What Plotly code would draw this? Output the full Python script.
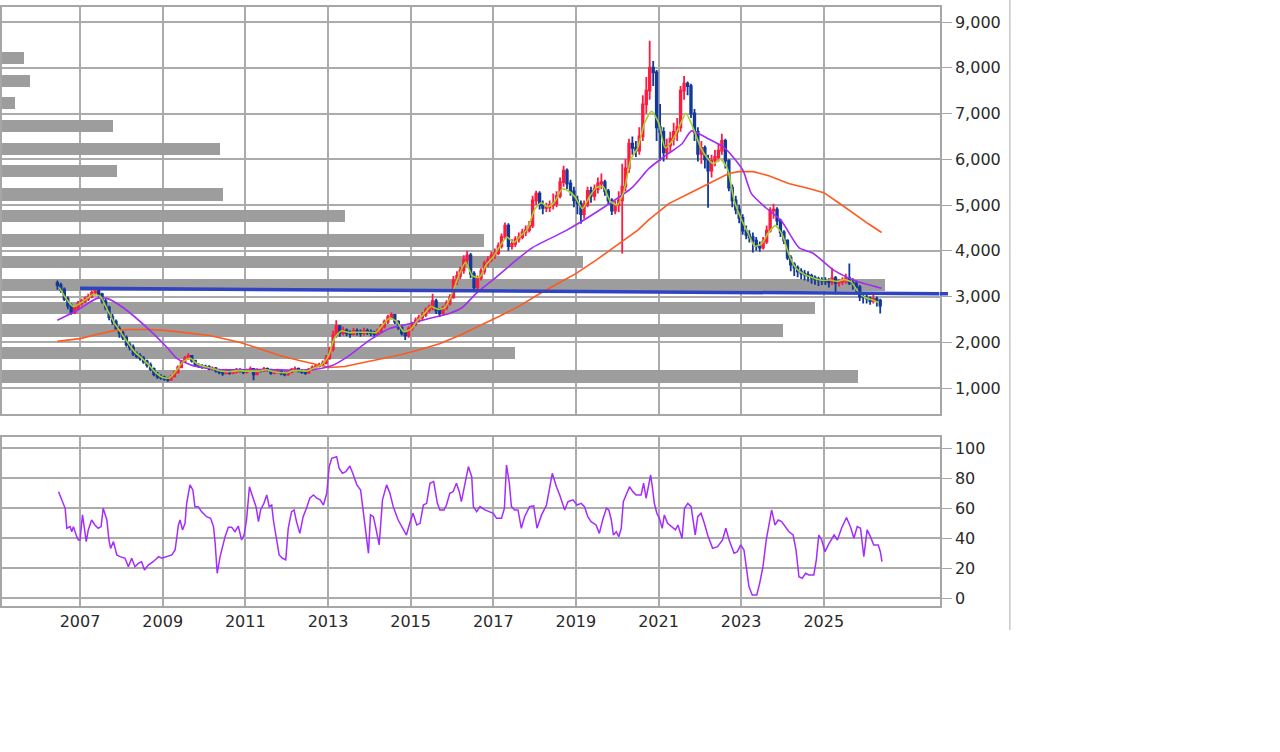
import plotly.graph_objects as go
import pandas as pd
from datetime import datetime

# ---------------- monthly candles (Jun 2006 .. May 2026) ----------------
opens = [
    3300, 3250, 3150, 2950, 2800, 2650, 2750,
    2850, 2900, 2950, 3000, 3080, 3120, 3050, 2900, 2760, 2550, 2450, 2300,
    2200, 2100, 1950, 1890, 1750, 1700, 1650, 1580, 1500, 1420, 1300, 1250,
    1230, 1200, 1180, 1250, 1340, 1450, 1580, 1650, 1700, 1600, 1500, 1480,
    1470, 1460, 1420, 1430, 1380, 1350, 1320, 1380, 1330, 1350, 1400, 1380,
    1350, 1380, 1420, 1300, 1400, 1380, 1420, 1400, 1330, 1350, 1380, 1320,
    1300, 1350, 1400, 1420, 1380, 1350, 1330, 1400, 1450, 1480, 1500, 1540,
    1650, 1850, 2150, 2350, 2200, 2260, 2200, 2180, 2250, 2220, 2200, 2250,
    2230, 2200, 2180, 2250, 2350, 2450, 2550, 2600, 2450, 2320, 2200, 2150,
    2300, 2400, 2480, 2540, 2600, 2700, 2760, 2900, 2700, 2630, 2750, 2850,
    2980, 3350, 3450, 3570, 3800, 3900, 3500, 3200, 3400, 3550, 3720, 3800,
    3900, 3950, 4100, 4300, 4550, 4100, 4150, 4250, 4300, 4400, 4450, 4550,
    5100, 5250, 5000, 4940, 4950, 5000, 5030, 5200, 5500, 5750, 5470, 5300,
    5100, 5030, 4800, 5000, 5310, 5200, 5350, 5470, 5500, 5300, 5100, 4880,
    5000, 5100, 5400, 5800, 6340, 6250, 6190, 6500, 7200, 7500, 8000, 7900,
    6700, 6600, 6150, 6300, 6450, 6600, 6700, 7500, 7650, 7600, 7000, 6600,
    6120, 6250, 6000, 5750, 5970, 6050, 6190, 6400, 5970, 5380, 5100, 4900,
    4720, 4440, 4350, 4300, 4220, 4100, 4070, 4200, 4440, 4880, 4900, 4660,
    4400, 4220, 3850, 3700, 3630, 3550, 3500, 3480, 3450, 3410, 3380, 3360,
    3350, 3330, 3310, 3400, 3300, 3320, 3350, 3400, 3300, 3280, 3200, 3000,
    2980, 2960, 2900, 2950, 2910,
]
highs = [
    3350, 3300, 3200, 3000, 2850, 2800, 2900,
    2950, 3000, 3060, 3130, 3180, 3150, 3080, 2950, 2800, 2620, 2500, 2350,
    2250, 2150, 2000, 1950, 1800, 1760, 1700, 1620, 1560, 1450, 1350, 1300,
    1270, 1240, 1290, 1380, 1490, 1620, 1700, 1760, 1720, 1620, 1540, 1520,
    1510, 1500, 1470, 1460, 1420, 1380, 1420, 1410, 1390, 1440, 1430, 1410,
    1420, 1470, 1440, 1430, 1420, 1460, 1450, 1420, 1390, 1420, 1400, 1360,
    1390, 1440, 1470, 1450, 1410, 1390, 1440, 1490, 1520, 1550, 1600, 1720,
    1900, 2250, 2480, 2380, 2340, 2300, 2260, 2310, 2300, 2280, 2320, 2300,
    2280, 2250, 2300, 2400, 2500, 2600, 2650, 2620, 2480, 2360, 2250, 2350,
    2450, 2540, 2600, 2660, 2760, 2820, 3060, 2950, 2750, 2800, 2920, 3050,
    3450, 3550, 3650, 3900, 4000, 3950, 3550, 3460, 3620, 3780, 3880, 3980,
    4050, 4180, 4380, 4620, 4600, 4250, 4320, 4400, 4480, 4550, 4650, 5200,
    5310, 5300, 5100, 5050, 5100, 5250, 5300, 5600, 5860, 5800, 5550, 5400,
    5200, 5100, 5100, 5400, 5400, 5450, 5600, 5690, 5550, 5350, 5150, 5100,
    5300, 5900, 6000, 6450, 6500, 6400, 6700, 7400, 7800, 8590, 8150, 7950,
    7210, 6700, 6450, 6600, 6800, 6900, 7600, 7820, 7700, 7650, 7100, 6700,
    6400, 6300, 6100, 6100, 6200, 6350, 6560, 6450, 6000, 5450, 5200, 5000,
    4800, 4550, 4450, 4400, 4300, 4200, 4300, 4550, 4950, 5030, 4950, 4700,
    4450, 4250, 3900, 3750, 3680, 3620, 3580, 3550, 3500, 3460, 3430, 3420,
    3420, 3400, 3630, 3450, 3380, 3420, 3500, 3720, 3400, 3350, 3250, 3080,
    3050, 3000, 3050, 3000, 2950,
]
lows = [
    3150, 3080, 2900, 2720, 2600, 2620, 2700,
    2800, 2860, 2900, 2960, 3020, 2980, 2850, 2700, 2480, 2380, 2250, 2100,
    2050, 1900, 1820, 1700, 1650, 1600, 1530, 1450, 1370, 1260, 1200, 1180,
    1160, 1140, 1160, 1230, 1320, 1430, 1550, 1620, 1560, 1460, 1440, 1420,
    1420, 1390, 1380, 1340, 1300, 1270, 1300, 1290, 1300, 1320, 1340, 1300,
    1320, 1350, 1170, 1280, 1340, 1350, 1360, 1290, 1300, 1320, 1280, 1260,
    1270, 1320, 1360, 1340, 1310, 1290, 1310, 1380, 1420, 1450, 1480, 1520,
    1620, 1800, 2100, 2120, 2150, 2130, 2100, 2150, 2150, 2120, 2150, 2160,
    2130, 2100, 2150, 2200, 2300, 2400, 2500, 2400, 2270, 2150, 2050, 2100,
    2250, 2350, 2430, 2480, 2550, 2650, 2700, 2620, 2550, 2580, 2700, 2800,
    2950, 3250, 3380, 3500, 3700, 3400, 3150, 3120, 3350, 3480, 3650, 3750,
    3820, 3900, 4050, 4250, 4000, 4030, 4080, 4180, 4250, 4320, 4400, 4500,
    5000, 4900, 4800, 4850, 4850, 4900, 4950, 5150, 5400, 5350, 5200, 4950,
    4800, 4590, 4700, 4950, 5050, 5100, 5250, 5350, 5200, 5000, 4780, 4800,
    4850, 3940, 5300, 5700, 6100, 6050, 6100, 6400, 7000, 7300, 7600, 6400,
    5970, 5950, 6000, 6150, 6300, 6400, 6600, 7300, 7400, 6900, 6400, 5950,
    5900, 5800, 4940, 5600, 5850, 5950, 6100, 5800, 5300, 4950, 4800, 4600,
    4350, 4250, 4180, 3960, 4000, 3980, 4030, 4150, 4400, 4700, 4550, 4300,
    4150, 3800, 3550, 3450, 3420, 3380, 3350, 3330, 3280, 3260, 3230, 3250,
    3250, 3200, 3250, 3050, 3220, 3250, 3280, 3250, 3150, 3100, 2900, 2850,
    2850, 2820, 2850, 2780, 2630,
]
closes = [
    3250, 3150, 2950, 2800, 2650, 2750, 2850,
    2900, 2950, 3000, 3080, 3120, 3050, 2900, 2760, 2550, 2450, 2300, 2200,
    2100, 1950, 1890, 1750, 1700, 1650, 1580, 1500, 1420, 1300, 1250, 1230,
    1200, 1180, 1250, 1340, 1450, 1580, 1650, 1700, 1600, 1500, 1480, 1470,
    1460, 1420, 1430, 1380, 1350, 1320, 1380, 1330, 1350, 1400, 1380, 1350,
    1380, 1420, 1300, 1400, 1380, 1420, 1400, 1330, 1350, 1380, 1320, 1300,
    1350, 1400, 1420, 1380, 1350, 1330, 1400, 1450, 1480, 1500, 1540, 1650,
    1850, 2150, 2350, 2200, 2260, 2200, 2180, 2250, 2220, 2200, 2250, 2230,
    2200, 2180, 2250, 2350, 2450, 2550, 2600, 2450, 2320, 2200, 2150, 2300,
    2400, 2480, 2540, 2600, 2700, 2760, 2900, 2700, 2630, 2750, 2850, 2980,
    3350, 3450, 3570, 3800, 3900, 3500, 3200, 3400, 3550, 3720, 3800, 3900,
    3950, 4100, 4300, 4550, 4100, 4150, 4250, 4300, 4400, 4450, 4550, 5100,
    5250, 5000, 4940, 4950, 5000, 5030, 5200, 5500, 5750, 5470, 5300, 5100,
    5030, 4800, 5000, 5310, 5200, 5350, 5470, 5500, 5300, 5100, 4880, 5000,
    5100, 5400, 5800, 6340, 6250, 6190, 6500, 7200, 7500, 8000, 7900, 6700,
    6600, 6150, 6300, 6450, 6600, 6700, 7500, 7650, 7600, 7000, 6600, 6120,
    6250, 6000, 5750, 5970, 6050, 6190, 6400, 5970, 5380, 5100, 4900, 4720,
    4440, 4350, 4300, 4220, 4100, 4070, 4200, 4440, 4880, 4900, 4660, 4400,
    4220, 3850, 3700, 3630, 3550, 3500, 3480, 3450, 3410, 3380, 3360, 3350,
    3330, 3310, 3400, 3300, 3320, 3350, 3400, 3300, 3280, 3200, 3000, 2980,
    2960, 2900, 2950, 2910, 2800,
]
candle_dates = pd.date_range("2006-06-01", periods=len(closes), freq="MS") + pd.Timedelta(days=14)

# ---------------- moving averages ----------------
ma_short_dates = [
    "2006-07", "2006-09", "2006-11",
    "2007-01", "2007-03", "2007-05", "2007-07", "2007-09", "2007-11",
    "2008-01", "2008-03", "2008-05", "2008-07", "2008-09", "2008-11",
    "2009-01", "2009-03", "2009-05", "2009-07", "2009-09", "2009-11",
    "2010-01", "2010-03", "2010-05", "2010-07", "2010-09", "2010-11",
    "2011-01", "2011-03", "2011-05", "2011-07", "2011-09", "2011-11",
    "2012-01", "2012-03", "2012-05", "2012-07", "2012-09", "2012-11",
    "2013-01", "2013-03", "2013-05", "2013-07", "2013-09", "2013-11",
    "2014-01", "2014-03", "2014-05", "2014-07", "2014-09", "2014-11",
    "2015-01", "2015-03", "2015-05", "2015-07", "2015-09", "2015-11",
    "2016-01", "2016-03", "2016-05", "2016-07", "2016-09", "2016-11",
    "2017-01", "2017-03", "2017-05", "2017-07", "2017-09", "2017-11",
    "2018-01", "2018-03", "2018-05", "2018-07", "2018-09", "2018-11",
    "2019-01", "2019-03", "2019-05", "2019-07", "2019-09", "2019-11",
    "2020-01", "2020-03", "2020-05", "2020-07", "2020-09", "2020-11",
    "2021-01", "2021-03", "2021-05", "2021-07", "2021-09", "2021-11",
    "2022-01", "2022-03", "2022-05", "2022-07", "2022-09", "2022-11",
    "2023-01", "2023-03", "2023-05", "2023-07", "2023-09", "2023-11",
    "2024-01", "2024-03", "2024-05", "2024-07", "2024-09", "2024-11",
    "2025-01", "2025-03", "2025-05", "2025-07", "2025-09", "2025-11",
    "2026-01", "2026-03", "2026-05",
]
ma_short = [
    3200, 2950, 2780,
    2850, 2950, 3050, 3000, 2700, 2420,
    2200, 1980, 1780, 1650, 1500, 1330,
    1230, 1220, 1380, 1580, 1650, 1530,
    1470, 1440, 1390, 1360, 1360, 1380,
    1370, 1370, 1370, 1400, 1360, 1340,
    1330, 1380, 1380, 1370, 1440, 1500,
    1680, 2100, 2250, 2210, 2220, 2220,
    2220, 2210, 2380, 2530, 2450, 2230,
    2280, 2470, 2620, 2780, 2720, 2760,
    3050, 3450, 3750, 3450, 3420, 3700,
    3870, 4100, 4300, 4180, 4330, 4480,
    4900, 5050, 4960, 5080, 5350, 5300,
    5150, 4920, 5180, 5380, 5400, 5080,
    5000, 5300, 6000, 6250, 6800, 7050,
    6800, 6250, 6400, 6700, 7000, 6700,
    6300, 6050, 5900, 6000, 5800, 5100,
    4700, 4400, 4100, 4150, 4400, 4550,
    4350, 3900, 3620, 3500, 3430, 3380,
    3350, 3360, 3330, 3370, 3320, 3100,
    2980, 2930, 2870,
]
ma_mid_t = [2006.45, 2006.93, 2007.41, 2007.65, 2008.04, 2008.69, 2009.10, 2009.34, 2009.73, 2010.38,
            2011.00, 2011.60, 2012.20, 2012.80, 2013.10, 2013.45, 2014.00, 2014.49, 2015.00, 2015.45,
            2015.94, 2016.25, 2016.59, 2017.07, 2017.55, 2017.95, 2018.76, 2019.56, 2020.36, 2020.77,
            2021.20, 2021.57, 2021.80, 2022.20, 2022.60, 2022.85, 2023.05, 2023.25, 2023.60, 2023.97,
            2024.40, 2024.75, 2025.25, 2025.75, 2026.40]
ma_mid = [2480, 2700, 2960, 2960, 2760, 2260, 1890, 1650, 1490, 1400,
          1400, 1400, 1390, 1420, 1490, 1670, 2040, 2300, 2410, 2520,
          2630, 2760, 3070, 3420, 3790, 4070, 4440, 4880, 5380, 5800,
          6100, 6340, 6620, 6450, 6250, 6000, 5750, 5250, 4940, 4660,
          4070, 3940, 3570, 3350, 3180]
ma_long_t = [2006.45, 2007.00, 2007.50, 2007.85, 2008.20, 2008.70, 2009.05, 2009.66, 2010.14, 2010.38,
             2010.86, 2011.35, 2011.83, 2012.31, 2012.80, 2013.04, 2013.40, 2013.76, 2014.00, 2014.73,
             2015.20, 2015.70, 2016.18, 2016.66, 2017.15, 2017.63, 2018.10, 2018.60, 2019.00, 2019.50,
             2020.00, 2020.50, 2020.77, 2021.25, 2021.74, 2022.22, 2022.70, 2022.94, 2023.30, 2023.67,
             2024.15, 2024.64, 2025.00, 2025.36, 2025.72, 2026.08, 2026.40]
ma_long = [2020, 2080, 2190, 2260, 2280, 2280, 2260, 2190, 2150, 2100,
           2000, 1860, 1710, 1600, 1490, 1450, 1470, 1540, 1580, 1720,
           1830, 1970, 2150, 2350, 2570, 2790, 3050, 3300, 3500, 3800,
           4130, 4450, 4680, 5030, 5250, 5470, 5690, 5730, 5730, 5640,
           5470, 5360, 5270, 5050, 4810, 4590, 4400]

# trend line (blue)
trend_t = [2007.0, 2027.80]
trend_v = [3180, 3061]

# ---------------- volume profile ----------------
vp_price = [1253, 1766, 2258, 2749, 3251, 3753, 4223, 4758, 5227, 5740, 6220, 6723, 7225, 7716, 8207]
vp_volume = [858, 514, 783, 815, 885, 582, 483, 344, 221, 115, 218, 111, 13, 28, 22]

# ---------------- RSI ----------------
rsi_t = [
    2006.48, 2006.56, 2006.64, 2006.68, 2006.76, 2006.80, 2006.84, 2006.92, 2006.96, 2007.00,
    2007.06, 2007.10, 2007.15, 2007.20, 2007.28, 2007.36, 2007.44, 2007.51, 2007.56, 2007.65,
    2007.70, 2007.74, 2007.81, 2007.89, 2007.97, 2008.09, 2008.17, 2008.25, 2008.33, 2008.41,
    2008.49, 2008.56, 2008.65, 2008.77, 2008.90, 2008.98, 2009.10, 2009.22, 2009.30, 2009.38,
    2009.42, 2009.48, 2009.54, 2009.58, 2009.66, 2009.73, 2009.78, 2009.86, 2009.94, 2010.06,
    2010.16, 2010.23, 2010.27, 2010.32, 2010.39, 2010.51, 2010.59, 2010.67, 2010.75, 2010.83,
    2010.91, 2010.97, 2011.03, 2011.10, 2011.19, 2011.26, 2011.32, 2011.37, 2011.45, 2011.52,
    2011.58, 2011.64, 2011.68, 2011.74, 2011.82, 2011.90, 2011.98, 2012.04, 2012.12, 2012.18,
    2012.24, 2012.32, 2012.40, 2012.48, 2012.56, 2012.65, 2012.73, 2012.81, 2012.89, 2012.97,
    2013.03, 2013.09, 2013.21, 2013.27, 2013.35, 2013.43, 2013.53, 2013.60, 2013.70, 2013.79,
    2013.85, 2013.92, 2013.98, 2014.03, 2014.10, 2014.16, 2014.24, 2014.32, 2014.42, 2014.50,
    2014.58, 2014.70, 2014.81, 2014.90, 2014.98, 2015.06, 2015.15, 2015.23, 2015.31, 2015.39,
    2015.47, 2015.56, 2015.65, 2015.71, 2015.81, 2015.87, 2015.95, 2016.03, 2016.11, 2016.18,
    2016.23, 2016.31, 2016.40, 2016.48, 2016.52, 2016.60,
    2016.68, 2016.80, 2016.92, 2017.00, 2017.08, 2017.20, 2017.27, 2017.32, 2017.39, 2017.44,
    2017.52, 2017.60, 2017.68, 2017.76, 2017.88, 2017.98, 2018.06, 2018.17, 2018.29, 2018.37,
    2018.43, 2018.53, 2018.61, 2018.73, 2018.81, 2018.93, 2019.03, 2019.13, 2019.21, 2019.29,
    2019.37, 2019.49, 2019.57, 2019.65, 2019.74, 2019.80, 2019.86, 2019.91, 2019.98, 2020.04,
    2020.10, 2020.15, 2020.22, 2020.30, 2020.38, 2020.46, 2020.58, 2020.64, 2020.70, 2020.77,
    2020.81, 2020.85, 2020.90, 2020.96, 2021.02, 2021.09, 2021.14, 2021.22, 2021.33, 2021.41,
    2021.47, 2021.57, 2021.63, 2021.71, 2021.79, 2021.84, 2021.89, 2021.95, 2022.03, 2022.11,
    2022.19, 2022.31, 2022.43, 2022.55, 2022.63, 2022.71, 2022.83, 2022.91, 2022.99, 2023.07,
    2023.13, 2023.19, 2023.27, 2023.38, 2023.45, 2023.53, 2023.61, 2023.68, 2023.74, 2023.82,
    2023.90, 2023.98, 2024.06, 2024.16, 2024.26, 2024.33, 2024.40, 2024.48, 2024.56, 2024.64,
    2024.76, 2024.82, 2024.88, 2024.95, 2025.03, 2025.13, 2025.25, 2025.33, 2025.43, 2025.55,
    2025.65, 2025.73, 2025.81, 2025.89, 2025.97, 2026.05, 2026.13, 2026.21, 2026.32, 2026.37, 2026.41,
]
rsi_v = [
    71.1, 65.6, 60.0, 46.7, 47.8, 44.4, 47.8, 41.1, 38.9, 38.9,
    55.6, 47.8, 37.8, 45.6, 52.2, 48.9, 46.7, 47.8, 60.0, 52.2,
    38.9, 33.3, 37.8, 28.9, 27.8, 26.7, 21.1, 26.7, 21.1, 23.3,
    24.4, 18.9, 22.2, 24.4, 27.8, 26.7, 27.8, 28.9, 32.2, 48.9,
    52.2, 45.6, 50.0, 63.3, 75.6, 72.2, 61.1, 61.1, 57.8, 54.4,
    53.3, 47.8, 36.7, 16.7, 27.8, 41.1, 47.4, 47.4, 44.4, 48.2,
    38.9, 42.2, 52.2, 74.4, 66.7, 61.1, 51.1, 58.9, 63.3, 68.9,
    61.1, 62.2, 52.2, 41.1, 28.9, 26.7, 25.6, 46.7, 57.8, 58.9,
    51.1, 43.3, 54.4, 60.0, 66.7, 68.9, 66.7, 65.6, 62.2, 70.0,
    87.8, 93.3, 94.4, 86.7, 83.3, 84.4, 88.2, 83.3, 75.6, 72.2,
    60.0, 45.6, 30.0, 55.6, 54.4, 46.7, 35.6, 65.6, 75.6, 70.0,
    61.1, 52.2, 46.7, 42.2, 50.0, 56.7, 48.9, 50.0, 62.2, 63.3,
    76.7, 77.8, 63.3, 58.9, 58.9, 62.2, 70.0, 71.1, 76.7, 71.1,
    64.4, 76.7, 87.8, 81.1, 61.1, 57.8,
    61.1, 58.9, 57.8, 56.7, 53.3, 53.3, 60.0, 88.9, 76.7, 61.1,
    58.9, 58.9, 46.7, 54.4, 61.1, 61.6, 46.7, 55.6, 62.2, 74.4,
    83.3, 74.4, 68.9, 58.9, 64.4, 65.6, 62.2, 63.3, 61.1, 54.4,
    51.1, 48.9, 43.3, 52.2, 60.0, 58.9, 52.2, 42.2, 44.4, 41.1,
    46.7, 64.4, 68.9, 74.4, 71.1, 68.9, 68.9, 76.7, 66.7, 76.7,
    82.2, 74.4, 63.3, 56.7, 53.3, 46.7, 55.6, 50.0, 47.8, 45.6,
    48.9, 40.0, 60.0, 63.3, 61.1, 52.2, 42.2, 54.4, 56.7, 50.0,
    42.2, 33.3, 34.4, 38.9, 46.7, 38.9, 30.0, 31.1, 35.6, 32.2,
    21.1, 7.8, 2.2, 2.2, 10.0, 21.1, 38.9, 51.1, 58.9, 48.9,
    52.2, 51.1, 47.8, 44.4, 42.2, 32.2, 14.4, 13.3, 16.7, 15.6,
    15.6, 25.6, 42.2, 38.9, 31.1, 36.7, 42.2, 38.9, 46.7, 53.9,
    47.4, 40.0, 47.8, 46.7, 27.8, 45.6, 41.1, 35.6, 35.6, 31.1, 24.4,
]

year_ticks = [str(y) for y in range(2007, 2026, 2)]
price_ticks = [1000, 2000, 3000, 4000, 5000, 6000, 7000, 8000, 9000]
rsi_ticks = [0, 20, 40, 60, 80, 100]


def dec_year(y):
    yr = int(y)
    a = datetime(yr, 1, 1)
    b = datetime(yr + 1, 1, 1)
    return a + (b - a) * (y - yr)


# ---------------- styling ----------------
GRID = "#ababab"
FRAME = "#a6a6a6"
FONT = dict(family="DejaVu Sans", size=16, color="#2a2a2a")
RED = "#ff1a40"
BLUE = "#12389a"

fig = go.Figure()

# volume profile (base x axis, drawn beneath everything)
fig.add_trace(go.Bar(
    x=vp_volume, y=vp_price, orientation="h", width=270,
    marker=dict(color="#9d9d9d", line=dict(width=0)),
    xaxis="x", yaxis="y", hoverinfo="skip",
))

fig.add_trace(go.Candlestick(
    x=candle_dates, open=opens, high=highs, low=lows, close=closes,
    increasing=dict(line=dict(color=RED, width=1.8), fillcolor=RED),
    decreasing=dict(line=dict(color=BLUE, width=1.8), fillcolor=BLUE),
    xaxis="x3", yaxis="y",
))

fig.add_trace(go.Scatter(
    x=[dec_year(t) for t in ma_long_t], y=ma_long, mode="lines",
    line=dict(color="#ff5a1f", width=1.6), xaxis="x3", yaxis="y",
))
fig.add_trace(go.Scatter(
    x=[dec_year(t) for t in ma_mid_t], y=ma_mid, mode="lines",
    line=dict(color="#a32cf5", width=1.6, shape="spline", smoothing=0.6), xaxis="x3", yaxis="y",
))
fig.add_trace(go.Scatter(
    x=pd.to_datetime(ma_short_dates), y=ma_short, mode="lines",
    line=dict(color="#a3d12a", width=1.6, shape="spline", smoothing=0.6), xaxis="x3", yaxis="y",
))
fig.add_trace(go.Scatter(
    x=[dec_year(t) for t in trend_t], y=trend_v, mode="lines",
    line=dict(color="#3043c2", width=3.5), xaxis="x3", yaxis="y",
))

fig.add_trace(go.Scatter(
    x=[dec_year(t) for t in rsi_t], y=rsi_v, mode="lines",
    line=dict(color="#a52cff", width=1.5), xaxis="x2", yaxis="y2",
))

x_range = [dec_year(2005.11), dec_year(2027.815)]
tickvals_x = [datetime(int(y), 1, 1) for y in year_ticks]

common_x = dict(
    type="date", range=x_range, tickvals=tickvals_x, ticktext=year_ticks,
    showgrid=True, gridcolor=GRID, gridwidth=2,
    showline=True, mirror=True, linecolor=FRAME, linewidth=1.5,
    zeroline=False, ticks="", fixedrange=True,
)

fig.update_layout(
    width=1280, height=752,
    margin=dict(l=0, r=340, t=7, b=146),
    paper_bgcolor="white", plot_bgcolor="white",
    showlegend=False, bargap=0, font=FONT,
    xaxis=dict(domain=[0, 1], range=[0, 940], visible=False, anchor="y", fixedrange=True),
    xaxis3=dict(overlaying="x", anchor="y", domain=[0, 1], showticklabels=False,
                rangeslider=dict(visible=False), **common_x),
    xaxis2=dict(anchor="y2", domain=[0, 1], showticklabels=True, tickfont=FONT, **common_x),
    yaxis=dict(
        domain=[0.3205, 1], anchor="x", range=[432, 9328], side="right",
        tickvals=price_ticks, ticktext=[f"{v:,}" for v in price_ticks],
        ticks="outside", ticklen=10, tickcolor=FRAME, tickwidth=1,
        showgrid=True, gridcolor=GRID, gridwidth=2, zeroline=False,
        showline=True, mirror=True, linecolor=FRAME, linewidth=1.5,
        tickfont=FONT, fixedrange=True,
    ),
    yaxis2=dict(
        domain=[0, 0.2821], anchor="x2", range=[-5.1, 107.5], side="right",
        tickvals=rsi_ticks, ticktext=[str(v) for v in rsi_ticks],
        ticks="outside", ticklen=10, tickcolor=FRAME, tickwidth=1,
        showgrid=True, gridcolor=GRID, gridwidth=2, zeroline=False,
        showline=True, mirror=True, linecolor=FRAME, linewidth=1.5,
        tickfont=FONT, fixedrange=True,
    ),
    shapes=[
        dict(type="line", xref="paper", yref="paper",
             x0=1010 / 940, x1=1010 / 940, y0=-0.040, y1=1.012,
             line=dict(color="#c8c8c8", width=1.5)),
        # stub of the trend line running over the axis tick area
        dict(type="line", xref="paper", yref="y",
             x0=1.0, x1=948 / 940, y0=trend_v[-1], y1=trend_v[-1],
             line=dict(color="#3043c2", width=3.5)),
    ],
)

fig.write_html("out.html")
